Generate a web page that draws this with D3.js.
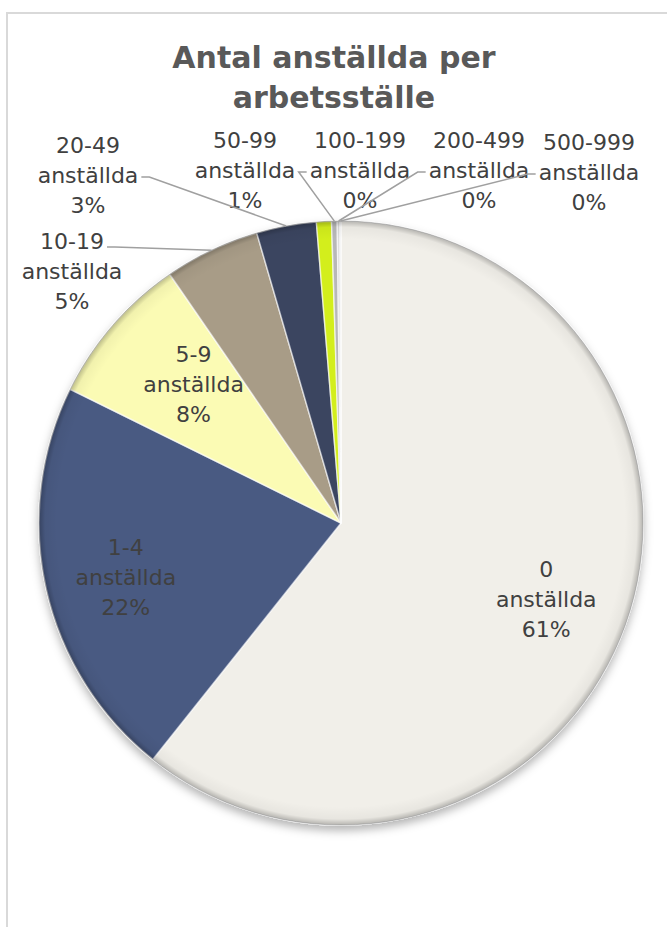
<!DOCTYPE html>
<html>
<head>
<meta charset="utf-8">
<script src="https://cdn.jsdelivr.net/npm/d3@7"></script>
<style>
  body { margin: 0; background: #fff; }
  text { font-family: "DejaVu Sans", Verdana, sans-serif; }
</style>
</head>
<body>
<div id="chart"></div>
<script>
// Data
const sizeClasses = ['0', '1-4', '5-9', '10-19', '20-49', '50-99', '100-199', '200-499', '500-999'];
const unitLabel = 'anställda';
const shares = [60.7, 21.6, 8.1, 5.1, 3.2, 0.8, 0.3, 0.15, 0.05];
const sliceColors = ['#F1EFE9', '#4A5A82', '#FBFBB4', '#A89C87', '#3B4560', '#D3EE1C', '#B8B8B8', '#D8D8D8', '#E8E8E8'];
const titleLines = ['Antal anställda per', 'arbetsställe'];

// Label placement (outside labels are placed like the original)
// inside: label sits on the slice, nudged by dx/dy; otherwise center x / middle line y
const labelLayout = [
  { inside: true, dx: 0, dy: 4 },
  { inside: true, dx: -3, dy: 7 },
  { inside: true, dx: 17, dy: 3 },
  { x: 72, y: 271, leader: 'right', line: 0 },
  { x: 88, y: 175, leader: 'right', line: 1 },
  { x: 245, y: 170 },
  { x: 360, y: 170, leader: 'left', line: 1 },
  { x: 479, y: 170, leader: 'left', line: 1 },
  { x: 589, y: 172, leader: 'left', line: 1 },
];

const width = 667;
const height = 927;
const cx = 341;
const cy = 523;
const radius = 302;
const lineGap = 30;

const svg = d3.select('#chart').append('svg')
  .attr('width', width)
  .attr('height', height);

const defs = svg.append('defs');

// Soft shadow under the pie
const shadow = defs.append('filter').attr('id', 'shadow')
  .attr('x', '-20%').attr('y', '-20%').attr('width', '140%').attr('height', '140%');
shadow.append('feDropShadow')
  .attr('dx', 0).attr('dy', 5).attr('stdDeviation', 5)
  .attr('flood-color', '#000').attr('flood-opacity', 0.3);

// Darker rim for the bevel look
const rim = defs.append('radialGradient').attr('id', 'rim')
  .attr('cx', '50%').attr('cy', '50%').attr('r', '50%');
rim.append('stop').attr('offset', '0.94').attr('stop-color', '#000').attr('stop-opacity', 0);
rim.append('stop').attr('offset', '0.98').attr('stop-color', '#000').attr('stop-opacity', 0.04);
rim.append('stop').attr('offset', '1').attr('stop-color', '#000').attr('stop-opacity', 0.25);

// Chart frame
svg.append('rect')
  .attr('x', 7).attr('y', 13)
  .attr('width', width + 20).attr('height', height + 20)
  .attr('fill', '#fff')
  .attr('stroke', '#D9D9D9')
  .attr('stroke-width', 2);

// Title
svg.append('g').selectAll('text')
  .data(titleLines)
  .enter()
  .append('text')
  .attr('x', 334)
  .attr('y', (d, i) => 68 + i * 40)
  .attr('text-anchor', 'middle')
  .attr('font-size', 30)
  .attr('font-weight', 'bold')
  .attr('fill', '#595959')
  .text((d) => d);

const pie = d3.pie().sort(null).value((d) => d);
const arcs = pie(shares);
const arc = d3.arc().innerRadius(0).outerRadius(radius);
const labelArc = d3.arc().innerRadius(radius * 0.72).outerRadius(radius * 0.72);
const fmt = d3.format('.0%');

const g = svg.append('g').attr('transform', `translate(${cx},${cy})`);

const slices = g.append('g').attr('filter', 'url(#shadow)');
slices.selectAll('path')
  .data(arcs)
  .enter()
  .append('path')
  .attr('d', arc)
  .attr('fill', (d, i) => sliceColors[i])
  .attr('stroke', 'rgba(255,255,255,0.6)')
  .attr('stroke-width', 1.5)
  .attr('stroke-linejoin', 'round');

g.append('circle')
  .attr('r', radius)
  .attr('fill', 'url(#rim)')
  .attr('pointer-events', 'none');

g.append('circle')
  .attr('r', radius)
  .attr('fill', 'none')
  .attr('stroke', 'rgba(90,90,90,0.3)')
  .attr('stroke-width', 1);

// Labels
const labels = svg.append('g');
const leaders = svg.append('g');

arcs.forEach((d, i) => {
  const lay = labelLayout[i];
  let lx, ly;
  if (lay.inside) {
    const c = labelArc.centroid(d);
    lx = cx + c[0] + lay.dx;
    ly = cy + c[1] + lay.dy;
  } else {
    lx = lay.x;
    ly = lay.y;
  }
  const lines = [sizeClasses[i], unitLabel, fmt(shares[i] / 100)];
  const texts = lines.map((t, k) =>
    labels.append('text')
      .attr('x', lx)
      .attr('y', ly + (k - 1) * lineGap + 8)
      .attr('text-anchor', 'middle')
      .attr('font-size', 22)
      .attr('fill', '#404040')
      .text(t));

  if (lay.leader) {
    const box = texts[lay.line].node().getBBox();
    const ay = ly + (lay.line - 1) * lineGap + (lay.line === 0 ? 6 : 2);
    const dir = lay.leader === 'right' ? 1 : -1;
    const ax = lay.leader === 'right' ? box.x + box.width + 3 : box.x - 3;
    const a = (d.startAngle + d.endAngle) / 2;
    const px = cx + Math.sin(a) * radius;
    const py = cy - Math.cos(a) * radius;
    leaders.append('path')
      .attr('d', d3.line()([[ax, ay], [ax + dir * 8, ay], [px, py]]))
      .attr('fill', 'none')
      .attr('stroke', '#A0A0A0')
      .attr('stroke-width', 1.5);
  }
});
</script>
</body>
</html>
